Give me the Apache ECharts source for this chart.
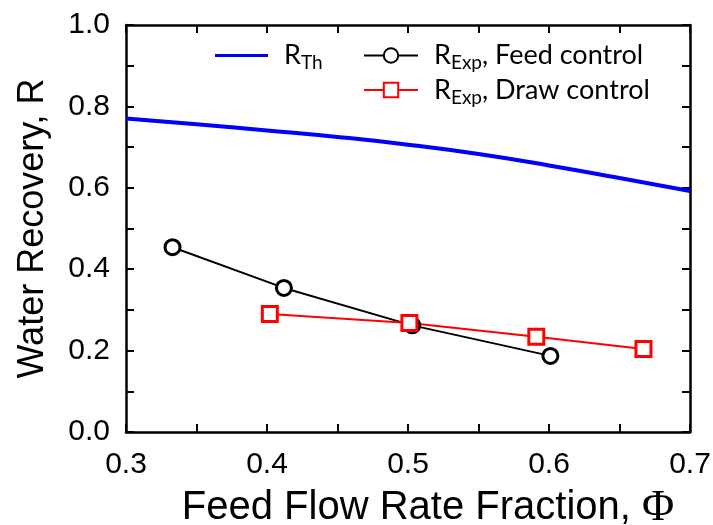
<!DOCTYPE html>
<html>
<head>
<meta charset="utf-8">
<script src="https://cdn.jsdelivr.net/npm/echarts@6/dist/echarts.min.js"></script>
<style>
  html, body { margin: 0; padding: 0; background: #fff; }
  #chart { width: 713px; height: 525px; }
</style>
</head>
<body>
<div id="chart"></div>
<script>
// theoretical recovery curve
const thPhi = [0.30, 0.35, 0.40, 0.45, 0.50, 0.55, 0.60, 0.65, 0.70];
const thR   = [0.770, 0.756, 0.741, 0.725, 0.706, 0.683, 0.655, 0.624, 0.592];

// experimental points
const feedPhi = [0.333, 0.412, 0.503, 0.601];
const feedR   = [0.454, 0.354, 0.262, 0.187];

const drawPhi = [0.402, 0.501, 0.591, 0.667];
const drawR   = [0.290, 0.268, 0.234, 0.204];

const pairs = (xs, ys) => xs.map((x, i) => [x, ys[i]]);

const chart = echarts.init(document.getElementById('chart'));

const tickFont = { fontFamily: 'Liberation Sans', fontSize: 30, color: '#000' };
const axisLine = { show: true, onZero: false, lineStyle: { color: '#000', width: 2.5 } };
const tickIn = { show: true, inside: true, length: 8, lineStyle: { color: '#000', width: 2 } };

const legendRich = {
  g: { width: 11 },
  r: { fontFamily: 'Lato', fontSize: 27, color: '#000' },
  sub: { fontFamily: 'Lato', fontSize: 19, color: '#000', padding: [15, 0, 0, 0] }
};
const legendNames = {
  th: '{g|}{r|R}{sub|Th}',
  feed: '{g|}{r|R}{sub|Exp}{r|, Feed control}',
  draw: '{g|}{r|R}{sub|Exp}{r|, Draw control}'
};

const option = {
  animation: false,
  grid: { left: 126, right: 23, top: 25, bottom: 93, outerBoundsMode: 'none' },
  legend: [
    {
      data: [{ name: 'th', icon: 'rect' }],
      left: 215, top: 42, padding: 0,
      itemWidth: 53, itemHeight: 3,
      formatter: n => legendNames[n],
      textStyle: { rich: legendRich }
    },
    {
      data: ['feed', 'draw'],
      orient: 'vertical',
      left: 363, top: 42, padding: 0,
      itemGap: 4,
      itemWidth: 54, itemHeight: 18,
      formatter: n => legendNames[n],
      textStyle: { rich: legendRich }
    }
  ],
  xAxis: [
    {
      type: 'value', min: 0.3, max: 0.7, interval: 0.05,
      axisLine: axisLine, axisTick: tickIn, splitLine: { show: false },
      axisLabel: Object.assign({}, tickFont, {
        margin: 18,
        formatter: v => (Math.round(v * 100) % 10 === 0 ? v.toFixed(1) : '')
      }),
      name: '{a|Feed Flow Rate Fraction, }{phi|Φ}',
      nameLocation: 'middle', nameGap: 54,
      nameTextStyle: {
        padding: [0, 0, 0, 40],
        rich: {
          a: { fontFamily: 'Liberation Sans', fontSize: 40, color: '#000' },
          phi: { fontFamily: 'Liberation Serif', fontSize: 44, color: '#000' }
        }
      }
    },
    {
      type: 'value', position: 'top', min: 0.3, max: 0.7, interval: 0.05,
      axisLine: axisLine, axisTick: tickIn, axisLabel: { show: false }, splitLine: { show: false }
    }
  ],
  yAxis: [
    {
      type: 'value', min: 0, max: 1, interval: 0.1,
      axisLine: axisLine, axisTick: tickIn, splitLine: { show: false },
      axisLabel: Object.assign({}, tickFont, {
        margin: 16,
        formatter: v => (Math.round(v * 10) % 2 === 0 ? v.toFixed(1) : '')
      }),
      name: 'Water Recovery, R',
      nameLocation: 'middle', nameGap: 75,
      nameTextStyle: { fontFamily: 'Liberation Sans', fontSize: 36, color: '#000' }
    },
    {
      type: 'value', position: 'right', min: 0, max: 1, interval: 0.1,
      axisLine: axisLine, axisTick: tickIn, axisLabel: { show: false }, splitLine: { show: false }
    }
  ],
  series: [
    {
      name: 'th', type: 'line', smooth: true, symbol: 'none',
      data: pairs(thPhi, thR),
      lineStyle: { color: '#0000ff', width: 4 },
      itemStyle: { color: '#0000ff' }
    },
    {
      name: 'feed', type: 'line', symbol: 'circle', symbolSize: 15,
      data: pairs(feedPhi, feedR),
      lineStyle: { color: '#000', width: 2 },
      itemStyle: { color: '#fff', borderColor: '#000', borderWidth: 3 }
    },
    {
      name: 'draw', type: 'line', symbol: 'rect', symbolSize: 15,
      data: pairs(drawPhi, drawR),
      lineStyle: { color: '#ff0000', width: 2 },
      itemStyle: { color: '#fff', borderColor: '#ff0000', borderWidth: 3 }
    }
  ]
};

chart.setOption(option);
</script>
</body>
</html>
